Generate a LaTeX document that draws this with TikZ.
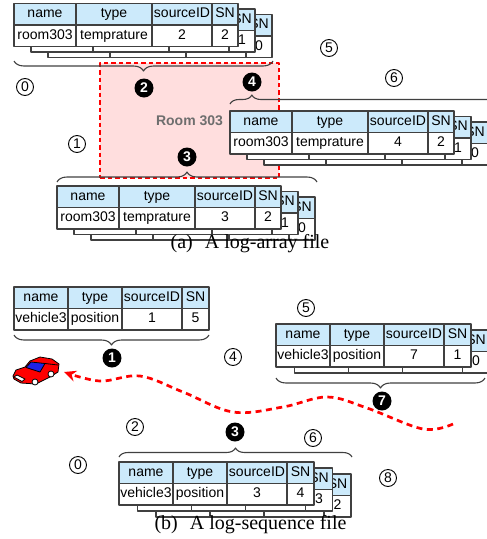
\documentclass[tikz,border=0pt]{standalone}
\usepackage{fontspec}
\setmainfont{Liberation Serif}
\setsansfont{Liberation Sans}
\usetikzlibrary{arrows.meta,decorations.pathreplacing}
\definecolor{headblue}{HTML}{CCEAFB}
\definecolor{roompink}{HTML}{FFDEDE}
\definecolor{rulegray}{HTML}{404040}
\definecolor{labelgray}{HTML}{6E6E6E}
\definecolor{carblue}{HTML}{1E22E6}
\tikzset{
  logcell/.style={draw=rulegray, fill=white, line width=1.2pt, outer sep=0pt, inner sep=0pt,
    minimum height=21.5pt, text height=10pt, text depth=3pt, anchor=north west,
    font=\sffamily\fontsize{14}{16}\selectfont},
  loghead/.style={logcell, fill=headblue},
  ring/.style={circle, draw, line width=0.9pt, inner sep=0pt, minimum size=17pt,
    font=\sffamily\fontsize{14}{14}\selectfont},
  blob/.style={circle, fill=black, text=white, inner sep=0pt, minimum size=19pt,
    font=\sffamily\bfseries\fontsize{14}{14}\selectfont},
  brc/.style={draw=rulegray, line width=1.1pt, decorate, decoration={brace, amplitude=#1}},
  brc/.default=10pt
}
% one log record: prefix, top left corner, name, type, sourceID, SN
\newcommand{\logtab}[6]{%
  \node[loghead, minimum width=\cwA] (#1h1) at #2 {name};
  \node[loghead, minimum width=\cwB] (#1h2) at (#1h1.north east) {type};
  \node[loghead, minimum width=\cwC] (#1h3) at (#1h2.north east) {sourceID};
  \node[loghead, minimum width=\cwD] (#1h4) at (#1h3.north east) {SN};
  \node[logcell, minimum width=\cwA] (#1v1) at (#1h1.south west) {#3};
  \node[logcell, minimum width=\cwB] (#1v2) at (#1h2.south west) {#4};
  \node[logcell, minimum width=\cwC] (#1v3) at (#1h3.south west) {#5};
  \node[logcell, minimum width=\cwD] (#1v4) at (#1h4.south west) {#6};
}
\begin{document}
\begin{tikzpicture}[x=1pt, y=-1pt, line join=round, >=stealth]
  \useasboundingbox (0,0) rectangle (487,539);
  \clip (0,0) rectangle (487,539);

  % (a) log-array
  \node[draw=red, fill=roompink, line width=2.7pt, dash pattern=on 4.5pt off 3pt,
    minimum width=179pt, minimum height=115pt, text=labelgray,
    font=\sffamily\bfseries\fontsize{14}{14}\selectfont] (room) at (189.5,120.5) {Room 303};
  \def\cwA{62pt}\def\cwB{76pt}\def\cwC{60pt}\def\cwD{26pt}
  \foreach \k/\s in {2/0,1/1,0/2}
    {\logtab{s1l\k}{(14+17*\k,3.5+5.5*\k)}{room303}{temprature}{2}{\s}}
  \foreach \k/\s in {2/0,1/1,0/2}
    {\logtab{s2l\k}{(230+17*\k,111+5.5*\k)}{room303}{temprature}{4}{\s}}
  \foreach \k/\s in {2/0,1/1,0/2}
    {\logtab{s3l\k}{(57+17*\k,186+5.5*\k)}{room303}{temprature}{3}{\s}}
  \draw[brc] (273,61) -- (14,61);
  \draw[brc=9pt, decoration={aspect=0.081}] (230,104) -- (500,104);
  \draw[brc] (57,182) -- (317,182);
  \foreach \n/\t/\p in {ra0/0/{(25,87)}, ra1/1/{(77,144)}, ra5/5/{(329,48)}, ra6/6/{(394,78)}}
    \node[ring] (\n) at \p {\t};
  \foreach \n/\t/\p in {da2/2/{(144,88)}, da4/4/{(252,82)}, da3/3/{(187,157)}}
    \node[blob] (\n) at \p {\t};
  \node[font=\fontsize{20}{20}\selectfont] (capa) at (250,244) {(a)\hspace{0.6em}A log-array file};

  % (b) log-sequence
  \def\cwA{54pt}\def\cwB{54pt}\def\cwC{60pt}\def\cwD{27pt}
  \logtab{v1}{(14,287)}{vehicle3}{position}{1}{5}
  \foreach \k/\s in {1/0,0/1}
    {\logtab{v7l\k}{(276+18.5*\k,324+6*\k)}{vehicle3}{position}{7}{\s}}
  \foreach \k/\s in {2/2,1/3,0/4}
    {\logtab{v3l\k}{(119+18.5*\k,462+6*\k)}{vehicle3}{position}{3}{\s}}
  \draw[brc] (209,335) -- (14,335);
  \draw[brc] (485,378) -- (276,378);
  \draw[brc=9pt] (119,457) -- (352,457);
  \foreach \n/\t/\p in {rb5/5/{(306,308)}, rb4/4/{(233,357)}, rb2/2/{(135,427)},
      rb6/6/{(313,438)}, rb0/0/{(78,465)}, rb8/8/{(388,478)}}
    \node[ring] (\n) at \p {\t};
  \foreach \n/\t/\p in {db1/1/{(112,358)}, db7/7/{(382,401)}, db3/3/{(235,432)}}
    \node[blob] (\n) at \p {\t};

  % the car and its trail
  \begin{scope}[line width=0.8pt]
    \draw[fill=red] (13,376) -- (16,370) -- (25,367) -- (30,361) -- (40,357) -- (52,359)
      -- (59,364) -- (58,372) -- (50,377) -- (36,384) -- (21,383) -- (14,379) -- cycle;
    \draw[fill=carblue] (26,367.5) -- (31,362) -- (45,363.5) -- (40,372) -- cycle;
    \draw (45,363.5) -- (58,365);
    \draw[fill=white] (14,377) -- (22,381.5) -- (25,379) -- (17,375) -- cycle;
    \draw[fill=white] (35,382) circle (3pt) (51,374) circle (3pt);
  \end{scope}
  \coordinate (trail) at (453,424);
  \coordinate (car) at (64,372);
  \draw[red, line width=2.7pt, dash pattern=on 6pt off 4.5pt, -{Stealth[length=12pt,width=11pt]}]
    plot[smooth, tension=0.6] coordinates {(trail) (423,429) (367,408) (327,397) (283,407)
      (233,412) (183,392) (140,376) (100,381) (car)};
  \node[font=\fontsize{20}{20}\selectfont] (capb) at (250.5,525) {(b)\hspace{0.6em}A log-sequence file};
\end{tikzpicture}
\end{document}
